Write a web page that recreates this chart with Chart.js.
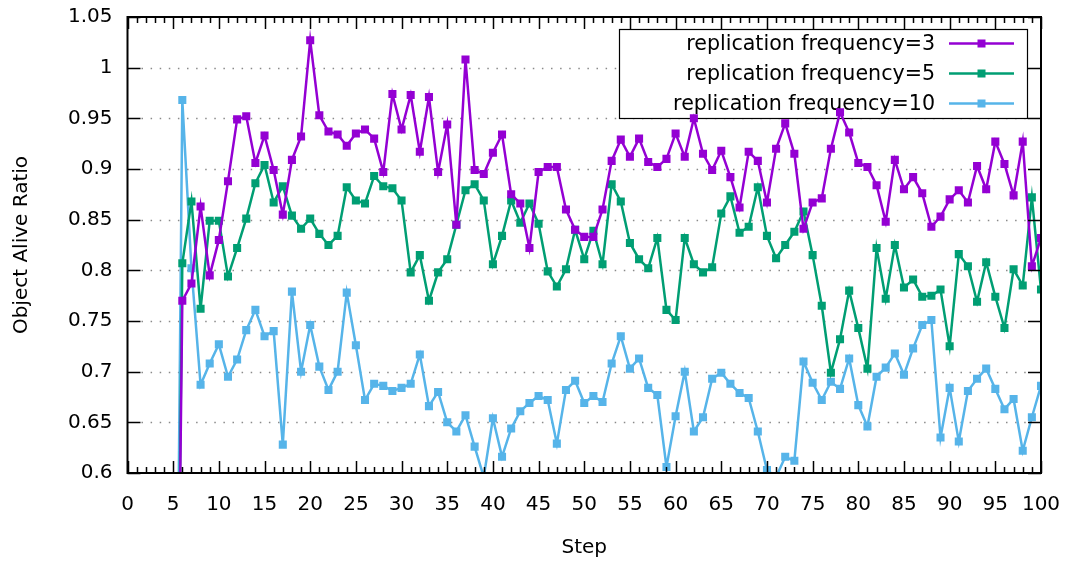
<!DOCTYPE html>
<html>
<head>
<meta charset="utf-8">
<title>Object Alive Ratio</title>
<script src="https://cdn.jsdelivr.net/npm/chart.js@4.4.1/dist/chart.umd.min.js"></script>
<style>
  html, body { margin: 0; padding: 0; background: #fff; }
  #wrap { width: 1074px; height: 566px; position: relative; }
</style>
</head>
<body>
<div id="wrap"><canvas id="myChart"></canvas></div>
<script>
// x values (step 5 sits below the visible range)
const steps = [5, 6, 7, 8, 9, 10, 11, 12, 13, 14, 15, 16, 17, 18, 19, 20,
  21, 22, 23, 24, 25, 26, 27, 28, 29, 30, 31, 32, 33, 34, 35, 36, 37, 38, 39, 40,
  41, 42, 43, 44, 45, 46, 47, 48, 49, 50, 51, 52, 53, 54, 55, 56, 57, 58, 59, 60,
  61, 62, 63, 64, 65, 66, 67, 68, 69, 70, 71, 72, 73, 74, 75, 76, 77, 78, 79, 80,
  81, 82, 83, 84, 85, 86, 87, 88, 89, 90, 91, 92, 93, 94, 95, 96, 97, 98, 99, 100];

// replication frequency = 3
const freq3 = [0, 0.770, 0.787, 0.863, 0.795, 0.830, 0.888, 0.949, 0.952, 0.906, 0.933, 0.899, 0.855, 0.909, 0.932, 1.027,
  0.953, 0.937, 0.934, 0.923, 0.935, 0.939, 0.930, 0.897, 0.974, 0.939, 0.973, 0.917, 0.971, 0.897, 0.944, 0.845, 1.008, 0.899, 0.895, 0.916,
  0.934, 0.875, 0.866, 0.822, 0.897, 0.902, 0.902, 0.860, 0.840, 0.833, 0.833, 0.860, 0.908, 0.929, 0.912, 0.930, 0.907, 0.902, 0.910, 0.935,
  0.912, 0.950, 0.915, 0.899, 0.918, 0.892, 0.862, 0.917, 0.908, 0.867, 0.920, 0.945, 0.915, 0.841, 0.867, 0.871, 0.920, 0.956, 0.936, 0.906,
  0.902, 0.884, 0.848, 0.909, 0.880, 0.892, 0.876, 0.843, 0.853, 0.870, 0.879, 0.867, 0.903, 0.880, 0.927, 0.905, 0.874, 0.927, 0.804, 0.832];

// replication frequency = 5
const freq5 = [0, 0.807, 0.868, 0.762, 0.849, 0.849, 0.794, 0.822, 0.851, 0.886, 0.904, 0.867, 0.883, 0.854, 0.841, 0.851,
  0.836, 0.825, 0.834, 0.882, 0.869, 0.866, 0.893, 0.883, 0.881, 0.869, 0.798, 0.815, 0.770, 0.798, 0.811, 0.845, 0.879, 0.885, 0.869, 0.806,
  0.834, 0.869, 0.847, 0.866, 0.846, 0.799, 0.784, 0.801, 0.840, 0.811, 0.839, 0.806, 0.885, 0.868, 0.827, 0.811, 0.802, 0.832, 0.761, 0.751,
  0.832, 0.806, 0.798, 0.803, 0.856, 0.873, 0.837, 0.843, 0.882, 0.834, 0.812, 0.825, 0.838, 0.858, 0.815, 0.765, 0.699, 0.732, 0.780, 0.743,
  0.703, 0.822, 0.772, 0.825, 0.783, 0.791, 0.774, 0.775, 0.781, 0.725, 0.816, 0.804, 0.769, 0.808, 0.774, 0.743, 0.801, 0.785, 0.872, 0.781];

// replication frequency = 10
const freq10 = [0, 0.968, 0.802, 0.687, 0.708, 0.727, 0.695, 0.712, 0.741, 0.761, 0.735, 0.740, 0.628, 0.779, 0.700, 0.746,
  0.705, 0.682, 0.700, 0.778, 0.726, 0.672, 0.688, 0.686, 0.681, 0.684, 0.688, 0.717, 0.666, 0.680, 0.650, 0.641, 0.657, 0.626, 0.596, 0.654,
  0.616, 0.644, 0.661, 0.669, 0.676, 0.672, 0.629, 0.682, 0.691, 0.669, 0.676, 0.670, 0.708, 0.735, 0.703, 0.713, 0.684, 0.677, 0.606, 0.656,
  0.700, 0.641, 0.655, 0.693, 0.699, 0.688, 0.679, 0.674, 0.641, 0.603, 0.596, 0.616, 0.612, 0.710, 0.689, 0.672, 0.690, 0.683, 0.713, 0.667,
  0.646, 0.695, 0.704, 0.718, 0.697, 0.723, 0.746, 0.751, 0.635, 0.684, 0.631, 0.681, 0.693, 0.703, 0.683, 0.663, 0.673, 0.622, 0.655, 0.686];

const seriesNames = ["replication frequency=3", "replication frequency=5", "replication frequency=10"];
const seriesColors = ["#9400d3", "#009e73", "#56b4e9"];

// tick labels
const xTicks = [0, 5, 10, 15, 20, 25, 30, 35, 40, 45, 50, 55, 60, 65, 70, 75, 80, 85, 90, 95, 100];
const yTicks = [0.6, 0.65, 0.7, 0.75, 0.8, 0.85, 0.9, 0.95, 1, 1.05];

const FONT = "'DejaVu Sans', Verdana, sans-serif";

function points(vals) {
  return steps.map((s, i) => ({ x: s, y: vals[i] }));
}

// grid, legend box, border and inward ticks like gnuplot
const gnuplotFrame = {
  id: "gnuplotFrame",
  beforeDatasetsDraw(chart) {
    const ctx = chart.ctx;
    const a = chart.chartArea;
    const y = chart.scales.y;
    ctx.save();

    // dotted horizontal grid
    ctx.strokeStyle = "#8a8a8a";
    ctx.lineWidth = 1.3;
    ctx.setLineDash([1.5, 7.6]);
    yTicks.slice(1, -1).forEach(function (v) {
      const py = Math.round(y.getPixelForValue(v)) + 0.5;
      ctx.beginPath();
      ctx.moveTo(a.left + 14, py);
      ctx.lineTo(a.right - 13, py);
      ctx.stroke();
    });
    ctx.setLineDash([]);

    // legend
    const bx = Math.round(a.right - 422), by = Math.round(a.top + 12), bw = 408, bh = 89;
    ctx.fillStyle = "#fff";
    ctx.fillRect(bx, by, bw, bh);
    ctx.strokeStyle = "#000";
    ctx.lineWidth = 1.2;
    ctx.strokeRect(bx + 0.5, by + 0.5, bw, bh);
    ctx.font = "20.6px " + FONT;
    ctx.textAlign = "right";
    ctx.textBaseline = "middle";
    seriesNames.forEach(function (name, i) {
      const ry = by + 14.5 + i * 30;
      ctx.fillStyle = "#000";
      ctx.fillText(name, bx + 316, ry + 1);
      ctx.strokeStyle = seriesColors[i];
      ctx.lineWidth = 2.5;
      ctx.beginPath();
      ctx.moveTo(bx + 330, ry);
      ctx.lineTo(bx + 395, ry);
      ctx.stroke();
      ctx.fillStyle = seriesColors[i];
      ctx.fillRect(bx + 362.5 - 4, ry - 4, 8, 8);
    });
    ctx.restore();
  },
  afterDatasetsDraw(chart) {
    const ctx = chart.ctx;
    const a = chart.chartArea;
    const x = chart.scales.x;
    const y = chart.scales.y;
    ctx.save();
    ctx.strokeStyle = "#000";

    // ticks
    ctx.lineWidth = 1.5;
    ctx.beginPath();
    for (let s = 0; s <= 100; s++) {
      const px = Math.round(x.getPixelForValue(s)) + 0.5;
      const len = s % 5 === 0 ? 12 : 6;
      ctx.moveTo(px, a.bottom);
      ctx.lineTo(px, a.bottom - len);
      ctx.moveTo(px, a.top);
      ctx.lineTo(px, a.top + len);
    }
    yTicks.forEach(function (v) {
      const py = Math.round(y.getPixelForValue(v)) + 0.5;
      ctx.moveTo(a.left, py);
      ctx.lineTo(a.left + 13, py);
      ctx.moveTo(a.right, py);
      ctx.lineTo(a.right - 13, py);
    });
    ctx.stroke();

    // border
    ctx.lineWidth = 2;
    ctx.strokeRect(a.left, a.top, a.right - a.left, a.bottom - a.top);
    ctx.restore();
  }
};

const datasets = seriesNames.map(function (name, i) {
  return {
    label: name,
    data: points([freq3, freq5, freq10][i]),
    borderColor: seriesColors[i],
    backgroundColor: seriesColors[i],
    borderWidth: 2.5,
    pointStyle: "rect",
    pointRadius: 5.7,
    pointHoverRadius: 5.7,
    pointBorderWidth: 0,
    tension: 0,
    clip: 0
  };
});

let ctx = document.getElementById("myChart").getContext("2d");
let chart = new Chart(ctx, {
  type: "line",
  data: { datasets: datasets },
  plugins: [gnuplotFrame],
  options: {
    responsive: true,
    maintainAspectRatio: false,
    animation: false,
    devicePixelRatio: 1,
    layout: { padding: { top: 17, right: 33, left: 0, bottom: 0 } },
    plugins: {
      legend: { display: false },
      tooltip: { enabled: false }
    },
    scales: {
      x: {
        type: "linear",
        position: "bottom",
        min: 0,
        max: 100,
        afterBuildTicks: function (scale) {
          scale.ticks = xTicks.map(v => ({ value: v }));
        },
        afterFit: function (scale) {
          scale.height = 93;
          scale.paddingLeft = 0;
          scale.paddingRight = 0;
        },
        grid: { display: false, drawTicks: false },
        border: { display: false },
        ticks: {
          color: "#000",
          font: { family: FONT, size: 20 },
          padding: 20,
          maxRotation: 0,
          autoSkip: false
        },
        title: {
          display: true,
          text: "Step",
          color: "#000",
          font: { family: FONT, size: 20 },
          padding: { top: 0, bottom: 6 }
        }
      },
      y: {
        type: "linear",
        position: "left",
        min: 0.6,
        max: 1.05,
        afterBuildTicks: function (scale) {
          scale.ticks = yTicks.map(v => ({ value: v }));
        },
        afterFit: function (scale) {
          scale.width = 127.5;
          scale.paddingTop = 0;
          scale.paddingBottom = 0;
        },
        grid: { display: false, drawTicks: false },
        border: { display: false },
        ticks: {
          color: "#000",
          font: { family: FONT, size: 20 },
          padding: 15,
          autoSkip: false,
          callback: function (v) {
            return String(Number(v.toFixed(2)));
          }
        },
        title: {
          display: true,
          text: "Object Alive Ratio",
          color: "#000",
          font: { family: FONT, size: 20 },
          padding: { top: 10, bottom: 0 }
        }
      }
    }
  }
});
</script>
</body>
</html>
